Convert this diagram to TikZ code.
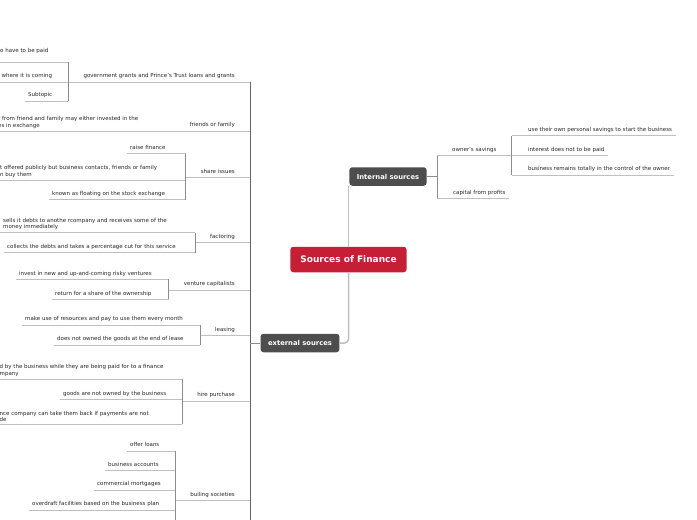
\documentclass[tikz,border=0pt]{standalone}
\usepackage{fontspec}
\setmainfont{DejaVu Sans}
\definecolor{finred}{RGB}{198,30,52}
\definecolor{boxgray}{RGB}{77,77,77}
\newcommand{\mapfont}{\fontsize{5.5}{6.1}\selectfont}

\begin{document}
\begin{tikzpicture}[
    x=1pt, y=-1pt,
    topic/.style={font=\mapfont, text=black!85, inner xsep=3.5pt, inner ysep=2.6pt, align=left},
    leaf/.style={topic, text depth=1.3pt},
    multi/.style={topic},
    sub/.style={leaf, inner xsep=15pt},
    mainbox/.style={rounded corners=3pt, fill=boxgray, text=white, font=\bfseries\fontsize{6.8}{8}\selectfont, minimum height=18.5pt, inner xsep=7.5pt},
    hub/.style={mainbox, fill=finred, font=\bfseries\fontsize{9}{11}\selectfont, minimum height=25.5pt, inner xsep=10pt},
    uline/.style={draw=black!25, line width=0.8pt},
    joint/.style={draw=black!45, line width=0.7pt},
    spine/.style={draw=black!60, line width=0.9pt},
    trunk/.style={draw=black!25, line width=1.5pt}
]
\useasboundingbox (0,0) rectangle (697,520);
\clip (0,0) rectangle (697,520);
\coordinate (below) at (0,530);

% Centre
\node[hub] (src) at (348.5,259.5) {Sources of Finance};
\node[mainbox] (int) at (388,176.5) {Internal sources};
\node[mainbox] (ext) at (300,343) {external sources};
\draw[trunk] (src.north) -- (src.north |- int.south);
\draw[trunk, rounded corners=4pt] (src.south) |- (ext.east);

% Internal sources
\node[sub, anchor=south west] (own) at (437,155.5) {owner's savings};
\node[leaf, anchor=south west] (cap) at (449.5,198.3) {capital from profits};
\node[leaf, anchor=south west] (pers) at (524.5,135.7) {use their own personal savings to start the business};
\node[leaf, anchor=south west] (intr) at (524.5,155.5) {interest does not to be paid};
\node[leaf, anchor=south west] (ctrl) at (524.5,175) {business remains totally in the control of the owner};
\draw[joint] (int.east) -- (int.east -| own.south west);
\draw[joint] (own.south west) -- (cap.south west -| own.south west);
\draw[uline] (own.south west) -- (own.south east);
\draw[uline] (cap.south west -| own.south west) -- (cap.south east);
\foreach \n in {pers,intr,ctrl}
    \draw[uline] (\n.south west -| own.south east) -- (\n.south east);
\draw[joint] (pers.south west -| own.south east) -- (ctrl.south west -| own.south east);

% External sources
\node[sub, anchor=south east] (gov) at (250,82) {government grants and Prince's Trust loans and grants};
\node[sub, anchor=south east] (fam) at (250,131) {friends or family};
\node[sub, anchor=south east] (share) at (250,177.5) {share issues};
\node[sub, anchor=south east] (fact) at (250,242.7) {factoring};
\node[sub, anchor=south east] (vent) at (250,290) {venture capitalists};
\node[sub, anchor=south east] (leas) at (250,335.5) {leasing};
\node[sub, anchor=south east] (hire) at (250,401) {hire purchase};
\node[sub, anchor=south east] (buil) at (250,500.3) {builing societies};

\node[leaf, text depth=7.2pt, anchor=south west] (paid) at (-3.5,62) {o have to be paid};
\node[leaf, anchor=south west] (coming) at (-2,82) {where it is coming};
\node[leaf, anchor=south west] (subt) at (24.5,101) {Subtopic};

\node[multi, anchor=south west] (frd) at (-5.5,131) {r from friend and family may either invested in the\\es in exchange};

\node[leaf, anchor=south west] (raise) at (126.5,153.5) {raise finance};
\node[multi, anchor=south west] (pub) at (-3.5,180) {t offered publicly but business contacts, friends or family\\n buy them};
\node[leaf, anchor=south west] (known) at (48.5,199.5) {known as floating on the stock exchange};

\node[multi, anchor=south west] (sells) at (-0.5,232.7) {sells it debts to anothe rcompany and receives some of the\\money immediately};
\node[leaf, anchor=south west] (coll) at (3.5,252.5) {collects the debts and takes a percentage cut for this service};

\node[leaf, anchor=south west] (inv) at (15.5,279.3) {invest in new and up-and-coming risky ventures};
\node[leaf, anchor=south west] (ret) at (51.5,299.3) {return for a share of the ownership};

\node[leaf, anchor=south west] (make) at (21.5,325) {make use of resources and pay to use them every month};
\node[leaf, anchor=south west] (does) at (53.5,345) {does not owned the goods at the end of lease};

\node[multi, anchor=south west] (paidby) at (-4,379) {d by the business while they are being paid for to a finance\\mpany};
\node[leaf, anchor=south west] (goods) at (59.5,399.3) {goods are not owned by the business};
\node[multi, anchor=south west] (back) at (-4,424) {nce company can take them back if payments are not\\de};

\node[leaf, anchor=south west] (offer) at (126.5,451) {offer loans};
\node[leaf, anchor=south west] (acc) at (104.5,470.3) {business accounts};
\node[leaf, anchor=south west] (mort) at (93.5,490) {commercial mortgages};
\node[leaf, anchor=south west] (over) at (28.5,510) {overdraft facilities based on the business plan};

\draw[spine] (gov.south east) -- (below -| gov.south east);
\draw[joint] (ext.west) -- (ext.west -| gov.south east);
\foreach \n in {gov,fam,share,fact,vent,leas,hire,buil}
    \draw[uline] (\n.south west) -- (\n.south east);
\foreach \n/\p in {paid/gov,coming/gov,subt/gov,frd/fam,raise/share,pub/share,known/share,
        sells/fact,coll/fact,inv/vent,ret/vent,make/leas,does/leas,
        paidby/hire,goods/hire,back/hire,offer/buil,acc/buil,mort/buil,over/buil}
    \draw[uline] (\n.south west) -- (\n.south west -| \p.south west);
\foreach \a/\b/\p in {paid/subt/gov,raise/known/share,sells/coll/fact,inv/ret/vent,
        make/does/leas,paidby/back/hire}
    \draw[joint] (\a.south west -| \p.south west) -- (\b.south west -| \p.south west);
\draw[joint] (offer.south west -| buil.south west) -- (below -| buil.south west);
\end{tikzpicture}
\end{document}
